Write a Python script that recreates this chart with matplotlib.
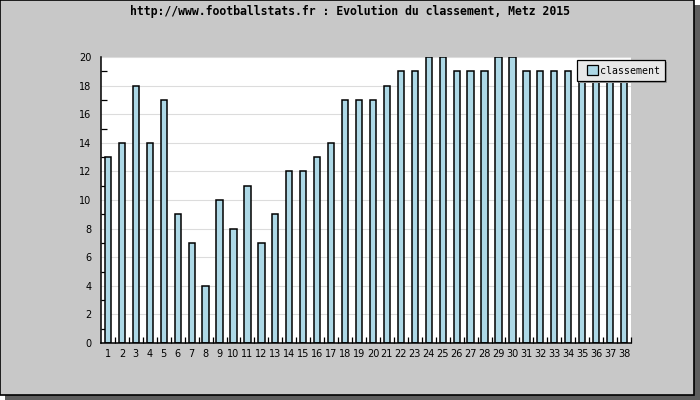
import numpy as np
import matplotlib
matplotlib.use("Agg")
import matplotlib.pyplot as plt
from matplotlib.patches import Rectangle

# data
rounds = list(range(1, 39))
classement = [13, 14, 18, 14, 17, 9, 7, 4, 10, 8,
              11, 7, 9, 12, 12, 13, 14, 17, 17, 17,
              18, 19, 19, 20, 20, 19, 19, 19, 20, 20,
              19, 19, 19, 19, 19, 19, 19, 19]
series_name = "classement"
title = "http://www.footballstats.fr : Evolution du classement, Metz 2015"

W, H = 700, 400
BAR_COLOR = "#add8e6"


def px(x, y):
    """pixel coords (top-left origin) -> figure fraction"""
    return x / W, 1 - y / H


def box(x0, y0, x1, y1, **kw):
    # rectangle given by top-left / bottom-right pixel corners
    fx, fy = px(x0, y1)
    return Rectangle((fx, fy), (x1 - x0) / W, (y1 - y0) / H,
                     transform=fig.transFigure, **kw)


fig = plt.figure(figsize=(7, 4), dpi=100)
fig.patch.set_facecolor("white")

# shadow + gray panel
fig.patches.append(box(5, 5, 700, 400, facecolor="#5e5e5e", edgecolor="none", zorder=-10))
fig.patches.append(box(0, 0, 694, 395, facecolor="#c8c8c8", edgecolor="black",
                       linewidth=1.2, zorder=-9))

left, top = px(101, 57)
right, bottom = px(631, 343)
ax = fig.add_axes([left, bottom, right - left, top - bottom])
ax.set_zorder(1)
ax.set_facecolor("white")

x = np.array(rounds)
bars = ax.bar(x, classement, width=0.45, color=BAR_COLOR, edgecolor="black",
              linewidth=1.1, zorder=3)

ax.set_xlim(0.5, 38.5)
ax.set_ylim(0, 20)

for s in ["top", "right"]:
    ax.spines[s].set_visible(False)
for s in ["left", "bottom"]:
    ax.spines[s].set_linewidth(1.1)
    ax.spines[s].set_zorder(4)

# y axis: labels on even values, small inward ticks on odd ones
ax.set_yticks(range(0, 21, 2))
ax.set_yticks(range(1, 21, 2), minor=True)
ax.tick_params(axis="y", which="major", length=0, pad=7, labelsize=7)
ax.tick_params(axis="y", which="minor", direction="in", length=4, width=0.9)
ax.yaxis.grid(True, which="major", color="#dcdcdc", linewidth=0.8, zorder=0)
ax.set_axisbelow(True)

# x axis: labels under bars, ticks between bars
ax.set_xticks(x + 0.5)
ax.set_xticklabels([])
ax.set_xticks(x, minor=True)
ax.set_xticklabels([str(r) for r in rounds], minor=True)
ax.tick_params(axis="x", which="major", direction="in", length=4, width=0.9)
ax.tick_params(axis="x", which="minor", length=0, pad=4, labelsize=7)

fig.text(0.5, 1 - 11 / H, title, ha="center", va="center",
         family="DejaVu Sans Mono", fontweight="bold", fontsize=8.3)

# legend box drawn by hand (sits partly outside the plot area)
fig.patches.append(box(579, 62, 667, 83, facecolor="#9a9a9a", edgecolor="none", zorder=5))
fig.patches.append(box(577, 60, 665, 81, facecolor="#e8e8e8", edgecolor="black",
                       linewidth=0.9, zorder=6))
fig.patches.append(box(587, 65, 598, 75, facecolor=BAR_COLOR, edgecolor="black",
                       linewidth=0.9, zorder=7))
lx, ly = px(600, 70.5)
fig.text(lx, ly, series_name, ha="left", va="center", family="DejaVu Sans Mono",
         fontsize=7.1, zorder=8)

fig.savefig("out.png", dpi=100)
